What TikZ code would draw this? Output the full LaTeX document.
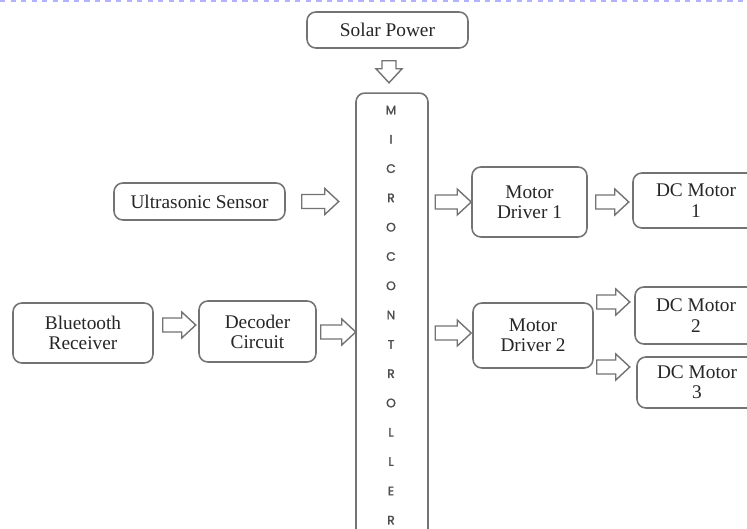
\documentclass[tikz,border=0pt]{standalone}
\usepackage{fontspec}
\setmainfont{Liberation Serif}
\newfontfamily\mcfont[FakeBold=1.5]{Poppins}
\usetikzlibrary{positioning,calc}

\tikzset{
  blk/.style={draw=black!55, line width=0.9pt, rounded corners=5pt, fill=white,
    align=center, font=\fontsize{11}{11.5}\selectfont, text=black!85, inner sep=0pt},
  mcletter/.style={font=\mcfont\fontsize{7}{7}\selectfont, text=black!70},
  pics/blkarr/.style={code={
    \draw[black!55, line width=0.8pt, fill=white]
      (0,-7) -- (#1-14,-7) -- (#1-14,-13) -- (#1,0) -- (#1-14,13) -- (#1-14,7) -- (0,7) -- cycle;}}
}

\begin{document}
\begin{tikzpicture}[x=0.02cm, y=-0.02cm]
  \useasboundingbox (0,0) rectangle (747,528);
  \clip (0,0) rectangle (747,528);
  \draw[blue!30, dashed, line width=0.6pt] (0,1) -- (747,1);

  % blocks
  \node[blk, minimum width=3.22cm, minimum height=0.72cm] (solar) at (387.5,30) {Solar Power};
  \node[blk, minimum width=1.44cm, minimum height=9.34cm] (mc) at (392,326.5) {};
  \node[blk, minimum width=3.42cm, minimum height=0.74cm] (us) at (199.5,201.5) {Ultrasonic Sensor};
  \node[blk, minimum width=2.80cm, minimum height=1.20cm] (bt) at (83,333) {Bluetooth\\Receiver};
  \node[blk, minimum width=2.34cm, minimum height=1.22cm] (dec) at (257.5,331.5) {Decoder\\Circuit};
  \node[blk, minimum width=2.30cm, minimum height=1.40cm] (md1) at (529.5,202) {Motor\\Driver 1};
  \node[blk, minimum width=2.40cm, minimum height=1.30cm] (md2) at (533,335.5) {Motor\\Driver 2};
  \node[blk, minimum width=2.52cm, minimum height=1.10cm] (dc1) at (696,200.5) {DC Motor\\1};
  \node[blk, minimum width=2.44cm, minimum height=1.14cm] (dc2) at (696,315.5) {DC Motor\\2};
  \node[blk, minimum width=2.40cm, minimum height=1.02cm] (dc3) at (697,382.5) {DC Motor\\3};

  % vertical lettering
  \foreach \ch [count=\i from 0] in {M,I,C,R,O,C,O,N,T,R,O,L,L,E,R}
    \node[mcletter] (mc\i) at (391,{110+29.3*\i}) {\ch};

  % block arrows
  \pic[rotate=-90] at ($(solar.south)+(1.5,12)$) {blkarr=22};
  \pic at ($(us.east)+(16,0)$) {blkarr=37};
  \pic at ($(bt.east)+(9,-8)$) {blkarr=33};
  \pic at ($(dec.east)+(4,0.5)$) {blkarr=35};
  \pic at ($(md1.west)+(-36,0)$) {blkarr=36};
  \pic at ($(md1.east)+(8,0)$) {blkarr=33};
  \pic at ($(md2.west)+(-37,-2.5)$) {blkarr=36};
  \pic at ($(md2.east)+(3,-33.5)$) {blkarr=33};
  \pic at ($(md2.east)+(3,31.5)$) {blkarr=33};
\end{tikzpicture}
\end{document}
